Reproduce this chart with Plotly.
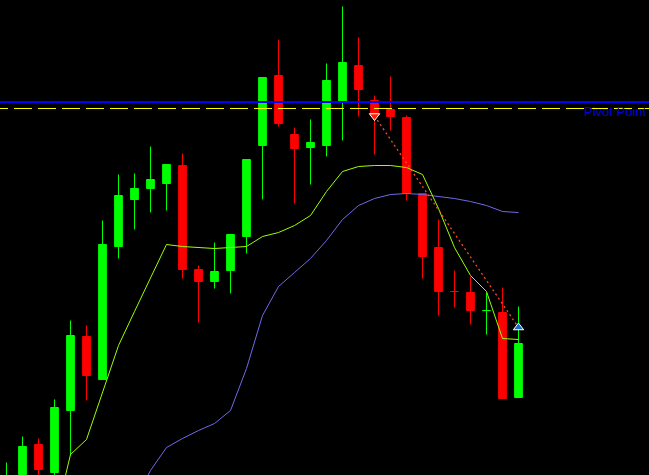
import plotly.graph_objects as go

# ---- data (prices) ----
idx = list(range(33))
opens  = [1.2805, 1.2826, 1.2856, 1.2828, 1.2890, 1.2964, 1.2921, 1.3054, 1.3101, 1.3112,
          1.3117, 1.3135, 1.3031, 1.3019, 1.3030, 1.3064, 1.3155, 1.3225, 1.3166, 1.3153,
          1.3155, 1.3198, 1.3235, 1.3200, 1.3191, 1.3183, 1.3107, 1.3053, 1.3009, 1.3008,
          1.29899, 1.2988, 1.2903]
highs  = [1.2838, 1.2864, 1.2862, 1.2901, 1.2980, 1.2975, 1.3080, 1.3126, 1.3127, 1.3154,
          1.3136, 1.3147, 1.3035, 1.3058, 1.3066, 1.3141, 1.3223, 1.3261, 1.3173, 1.3181,
          1.3237, 1.3294, 1.3263, 1.3205, 1.3224, 1.3185, 1.3107, 1.3081, 1.3030, 1.3024,
          1.3008, 1.3013, 1.2994]
lows   = [1.2795, 1.2821, 1.2820, 1.2822, 1.2845, 1.2900, 1.2921, 1.3042, 1.3071, 1.3088,
          1.3090, 1.3022, 1.2978, 1.3012, 1.3007, 1.3047, 1.3101, 1.3174, 1.3097, 1.3116,
          1.3144, 1.3160, 1.3184, 1.3146, 1.3170, 1.3100, 1.3022, 1.2985, 1.2993, 1.2976,
          1.2966, 1.2902, 1.2903]
closes = [1.2822, 1.2854, 1.2831, 1.2893, 1.2965, 1.2925, 1.3056, 1.3105, 1.3112, 1.3121,
          1.3136, 1.3031, 1.3019, 1.3029, 1.3066, 1.3141, 1.3223, 1.3177, 1.3152, 1.3158,
          1.3220, 1.3238, 1.3211, 1.3185, 1.3184, 1.3107, 1.3044, 1.3009, 1.3009, 1.2990,
          1.2990, 1.2902, 1.2957]

fast_ma_idx = list(range(3, 33))
fast_ma = [1.2779, 1.2846, 1.2861, 1.2908, 1.2955, 1.2989, 1.3023, 1.3056, 1.3054, 1.3053,
           1.3052, 1.3053, 1.3054, 1.3064, 1.3068, 1.3075, 1.3085, 1.3109, 1.3129, 1.3134,
           1.3135, 1.3135, 1.3133, 1.3126, 1.3092, 1.3053, 1.3025, 1.3009, 1.2962, 1.2961]

slow_ma_idx = list(range(8, 33))
slow_ma = [1.2800, 1.2830, 1.2853, 1.2862, 1.2870, 1.2877, 1.2890, 1.2932, 1.2985, 1.3014,
           1.3028, 1.3042, 1.3060, 1.3081, 1.3095, 1.3102, 1.3106, 1.3107, 1.3106, 1.3104,
           1.3102, 1.3099, 1.3095, 1.3089, 1.3088]

pivot_level = 1.31985
yellow_level = 1.3192
pivot_label = "Pivot Point"

trade_idx = [23, 32]
trade_price = [1.31845, 1.2973]

# ---- figure ----
fig = go.Figure()

fig.add_trace(go.Candlestick(
    x=idx, open=opens, high=highs, low=lows, close=closes,
    increasing=dict(fillcolor="#00FF00", line=dict(color="#00FF00", width=1)),
    decreasing=dict(fillcolor="#FF0000", line=dict(color="#FF0000", width=1)),
    whiskerwidth=0, hoverinfo="skip"))

fig.add_trace(go.Scatter(x=slow_ma_idx, y=slow_ma, mode="lines",
                         line=dict(color="#7068EC", width=1), hoverinfo="skip"))
fig.add_trace(go.Scatter(x=fast_ma_idx, y=fast_ma, mode="lines",
                         line=dict(color="#9CFF00", width=1), hoverinfo="skip"))

W, H = 649, 475
fig.add_shape(type="line", xref="paper", yref="y", x0=0, x1=1,
              y0=pivot_level, y1=pivot_level, line=dict(color="#0000FF", width=2))
fig.add_shape(type="line", xref="paper", yref="y", x0=-10 / W, x1=1,
              y0=yellow_level, y1=yellow_level,
              line=dict(color="#FFFF00", width=1, dash="18px,6px"))

fig.add_trace(go.Scatter(x=trade_idx, y=trade_price, mode="lines",
                         line=dict(color="#FF4A20", width=1.3, dash="2px,3px"),
                         hoverinfo="skip"))
fig.add_trace(go.Scatter(x=[trade_idx[0]], y=[trade_price[0]], mode="markers",
                         marker=dict(symbol="triangle-down", size=9, color="#FF2000",
                                     line=dict(color="white", width=1)),
                         hoverinfo="skip"))
fig.add_trace(go.Scatter(x=[trade_idx[1]], y=[trade_price[1]], mode="markers",
                         marker=dict(symbol="triangle-up", size=9, color="#1E6CC8",
                                     line=dict(color="white", width=1)),
                         hoverinfo="skip"))

fig.add_annotation(x=1, y=pivot_level, xref="paper", yref="y", text=pivot_label,
                   showarrow=False, xanchor="right", yanchor="top",
                   font=dict(family="Liberation Sans", size=13, color="#0000E0"))

fig.update_layout(
    width=W, height=H, autosize=False,
    margin=dict(l=0, r=0, t=0, b=0),
    paper_bgcolor="black", plot_bgcolor="black",
    showlegend=False, boxgap=0.31,
    xaxis=dict(range=[-6.5 / 16, (W - 6.5) / 16], visible=False,
               rangeslider=dict(visible=False), fixedrange=True),
    yaxis=dict(range=[1.33005 - H / 10000, 1.33005], visible=False, fixedrange=True),
)

fig.write_html("out.html", config={"displayModeBar": False},
               post_script="document.body.style.margin='0';document.body.style.background='black';")
